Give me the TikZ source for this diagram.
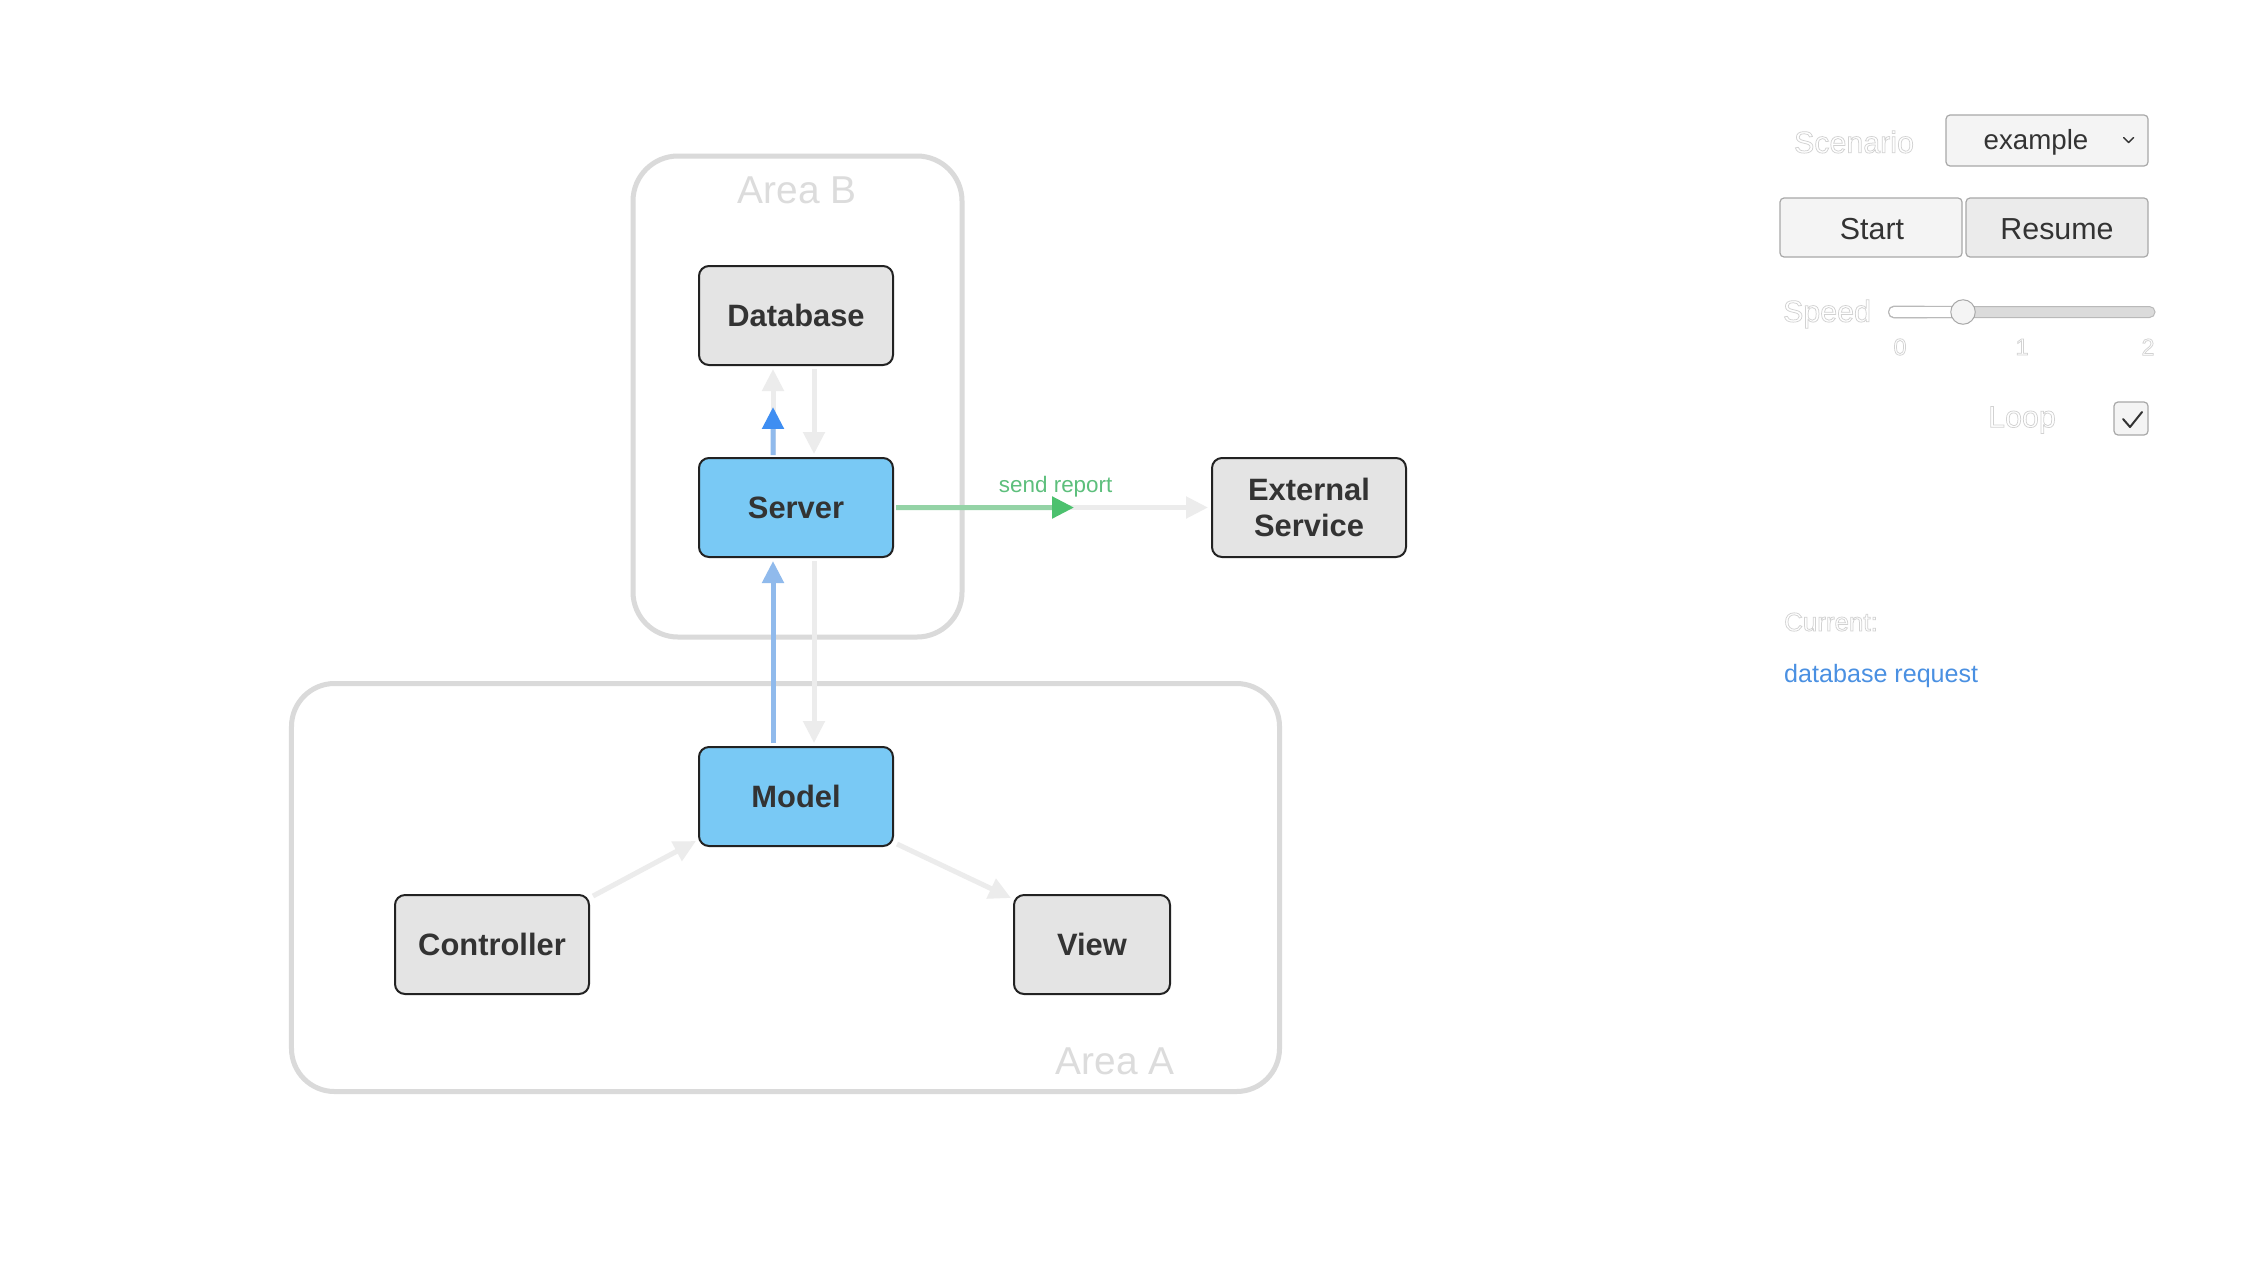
\documentclass[tikz,border=0pt]{standalone}
\usepackage{fontspec}
\setmainfont{Liberation Sans}
\usetikzlibrary{arrows.meta,calc}

\definecolor{boxgray}{HTML}{E4E4E4}
\definecolor{boxblue}{HTML}{79C9F5}
\definecolor{edgedark}{HTML}{222222}
\definecolor{areaedge}{HTML}{DADADA}
\definecolor{arealabel}{HTML}{DCDCDC}
\definecolor{idle}{HTML}{ECECEC}
\definecolor{flowblue}{HTML}{90BAEC}
\definecolor{headblue}{HTML}{3F8EF2}
\definecolor{flowgreen}{HTML}{94D3A6}
\definecolor{headgreen}{HTML}{4CC16E}
\definecolor{labelgreen}{HTML}{5DBF7C}
\definecolor{textdark}{HTML}{333333}
\definecolor{linkblue}{HTML}{4A90E2}
\definecolor{hollowgray}{HTML}{D2D2D2}
\definecolor{ctrlfill}{HTML}{F4F4F4}
\definecolor{ctrlfilldark}{HTML}{EBEBEB}
\definecolor{ctrledge}{HTML}{A8A8A8}

% outlined (stroked, unfilled) glyphs
\newcommand{\hollowtext}[1]{\special{pdf:literal direct 1 Tr 0.75 w}#1\special{pdf:literal direct 0 Tr}}

\tikzset{
  comp/.style={draw=edgedark, line width=2bp, rounded corners=10bp,
    minimum width=194bp, minimum height=99bp, inner sep=0pt,
    font=\fontsize{31}{36}\selectfont\bfseries, text=textdark, align=center},
  area/.style={draw=areaedge, line width=5bp, inner sep=0pt},
  arealbl/.style={font=\fontsize{39}{44}\selectfont, text=arealabel, inner sep=0pt},
  tip/.style={-{Triangle[length=22bp,width=21bp]}},
  idlearrow/.style={draw=idle, line width=5bp, tip},
  ctrl/.style={draw=ctrledge, line width=1.2bp, rounded corners=4bp, inner sep=0pt},
  ctrltext/.style={font=\fontsize{30.5}{36}\selectfont, text=textdark, inner sep=0pt},
  uilbl/.style={font=\fontsize{30.5}{36}\selectfont, text=hollowgray, inner sep=0pt},
}

\begin{document}
\begin{tikzpicture}[x=1bp, y=-1bp]
\useasboundingbox[fill=white] (0,0) rectangle (2252,1267);

% grouping areas
\node[area, rounded corners=45bp, minimum width=329bp, minimum height=481bp] (areaB) at (797.5,396.5) {};
\node[area, rounded corners=43bp, minimum width=988bp, minimum height=408bp] (areaA) at (785.5,887.5) {};
\node[arealbl] (areaBlbl) at (797,190) {Area B};
\node[arealbl] (areaAlbl) at (1115,1061) {Area A};

% components
\node[comp, fill=boxgray] (db) at (796,315.5) {Database};
\node[comp, fill=boxblue] (srv) at (796,507.5) {Server};
\node[comp, fill=boxblue] (mdl) at (796,796.5) {Model};
\node[comp, fill=boxgray] (ctl) at (492,944.5) {Controller};
\node[comp, fill=boxgray, minimum width=156bp] (view) at (1092,944.5) {View};
\node[comp, fill=boxgray] (ext) at (1309,507.5) {External\\Service};

% idle connections
\draw[idlearrow, shorten <=2bp, shorten >=3bp] ($(srv.north)+(-23,0)$) -- ($(db.south)+(-23,0)$);
\draw[idlearrow, shorten <=3bp, shorten >=3bp] ($(db.south)+(18,0)$) -- ($(srv.north)+(18,0)$);
\draw[idlearrow, shorten <=3bp, shorten >=3bp] ($(srv.south)+(18,0)$) -- ($(mdl.north)+(18,0)$);
\draw[idlearrow] ($(ctl.north east)+(3,2)$) -- ($(mdl.south west)+(-2,-6)$);
\draw[idlearrow] ($(mdl.south east)+(3,-3)$) -- ($(view.north west)+(-2,4)$);
\draw[idlearrow, shorten <=2bp, shorten >=3bp] (srv.east) -- (ext.west)
  node[pos=0.51, yshift=21bp, font=\fontsize{22.5}{26}\selectfont, text=labelgreen, inner sep=0pt] (sendlbl) {send report};

% active flows
\coordinate (dbq) at ($($(srv.north)!0.55!(db.south)$)+(-23,0)$);
\draw[flowblue, line width=5bp, -{Triangle[length=22bp,width=21bp,color=headblue]}, shorten <=2bp]
  ($(srv.north)+(-23,0)$) -- (dbq);
\draw[flowblue, line width=5bp, tip, shorten <=3bp, shorten >=3bp]
  ($(mdl.north)+(-23,0)$) -- ($(srv.south)+(-23,0)$);
\coordinate (rpt) at ($(srv.east)!0.568!(ext.west)$);
\draw[flowgreen, line width=5bp, -{Triangle[length=22bp,width=21bp,color=headgreen]}, shorten <=2bp]
  (srv.east) -- (rpt);

% control panel
\node[uilbl] (scenlbl) at (1854,142) {\hollowtext{Scenario}};
\node[ctrl, fill=ctrlfill, minimum width=202bp, minimum height=51bp] (scen) at (2047,140.5) {};
\node[ctrltext, font=\fontsize{27.8}{33}\selectfont] (scentxt) at (2036,142) {example};
\draw[textdark, line width=1.4bp, line cap=round, line join=round]
  ($(scen.east)+(-25,-3)$) -- ($(scen.east)+(-20,2)$) -- ($(scen.east)+(-15,-3)$);

\node[ctrl, fill=ctrlfill, minimum width=182bp, minimum height=59bp] (start) at (1871,227.5) {};
\node[ctrltext] (starttxt) at (1872,229) {Start};
\node[ctrl, fill=ctrlfilldark, minimum width=182bp, minimum height=59bp] (resume) at (2057,227.5) {};
\node[ctrltext] (resumetxt) at (2057,229) {Resume};

\node[uilbl] (speedlbl) at (1827,314) {\hollowtext{Speed}};
\node[draw=ctrledge!80, fill=ctrlfilldark!85!gray, rounded corners=5.5bp, line width=1bp,
  minimum width=266bp, minimum height=11bp, inner sep=0pt] (track) at (2022,312) {};
\fill[white, rounded corners=5bp] ($(track.west)+(0.6,-5)$) rectangle (1963,317);
\draw[ctrledge!80, line width=1bp, rounded corners=5.5bp] (1963,306.5) -- (track.north west) -- (track.south west) -- (1963,317.5);
\node[circle, draw=ctrledge, fill=ctrlfill, line width=1bp, minimum size=24.5bp, inner sep=0pt] (thumb) at (1963,312) {};
\node[uilbl, font=\fontsize{23.5}{28}\selectfont] (tick0) at (1900,347) {\hollowtext{0}};
\node[uilbl, font=\fontsize{23.5}{28}\selectfont] (tick1) at (2022,347) {\hollowtext{1}};
\node[uilbl, font=\fontsize{23.5}{28}\selectfont] (tick2) at (2148,347) {\hollowtext{2}};

\node[uilbl] (looplbl) at (2022,420) {\hollowtext{Loop}};
\node[ctrl, fill=ctrlfill, minimum width=34bp, minimum height=33bp] (loopbox) at (2131,418.5) {};
\draw[textdark, line width=2bp, line cap=round, line join=round]
  ($(loopbox.center)+(-8,0.5)$) -- ($(loopbox.center)+(-1,8.5)$) -- ($(loopbox.center)+(11,-6.5)$);

\node[uilbl, font=\fontsize{26}{30}\selectfont, anchor=west] (curlbl) at (1784,622) {\hollowtext{Current:}};
\node[font=\fontsize{25.2}{30}\selectfont, text=linkblue, inner sep=0pt, anchor=west] (curtxt) at (1784,676) {database request};
\end{tikzpicture}
\end{document}
